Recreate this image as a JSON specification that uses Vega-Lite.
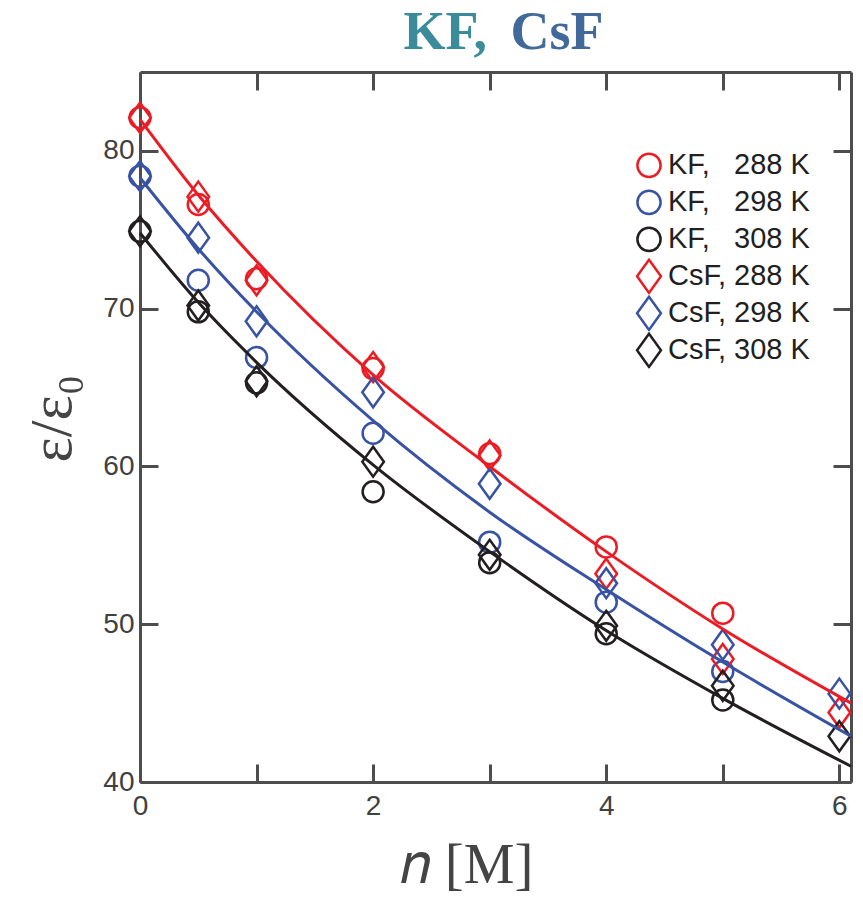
{
  "$schema": "https://vega.github.io/schema/vega-lite/v6.json",
  "width": 711,
  "height": 710,
  "autosize": {"type": "none"},
  "padding": {"left": 140, "top": 72, "right": 12, "bottom": 120},
  "background": "white",
  "config": {
    "view": {"stroke": null},
    "axis": {
      "grid": false,
      "domainColor": "#4d4d4d",
      "domainWidth": 3,
      "tickColor": "#4d4d4d",
      "tickWidth": 3,
      "tickSize": -18,
      "labelFlush": false,
      "labelFont": "Liberation Sans",
      "labelFontSize": 28,
      "labelColor": "#404040",
      "titleColor": "#444444",
      "titleFontWeight": "normal"
    }
  },
  "datasets": {
    "points": [
      {"n": 0, "eps": 82.1, "series": "KF, 288 K"},
      {"n": 0.5, "eps": 76.6, "series": "KF, 288 K"},
      {"n": 1, "eps": 71.9, "series": "KF, 288 K"},
      {"n": 2, "eps": 66.2, "series": "KF, 288 K"},
      {"n": 3, "eps": 60.8, "series": "KF, 288 K"},
      {"n": 4, "eps": 54.9, "series": "KF, 288 K"},
      {"n": 5, "eps": 50.7, "series": "KF, 288 K"},
      {"n": 0, "eps": 78.4, "series": "KF, 298 K"},
      {"n": 0.5, "eps": 71.8, "series": "KF, 298 K"},
      {"n": 1, "eps": 66.9, "series": "KF, 298 K"},
      {"n": 2, "eps": 62.1, "series": "KF, 298 K"},
      {"n": 3, "eps": 55.2, "series": "KF, 298 K"},
      {"n": 4, "eps": 51.4, "series": "KF, 298 K"},
      {"n": 5, "eps": 47.0, "series": "KF, 298 K"},
      {"n": 0, "eps": 74.9, "series": "KF, 308 K"},
      {"n": 0.5, "eps": 69.8, "series": "KF, 308 K"},
      {"n": 1, "eps": 65.3, "series": "KF, 308 K"},
      {"n": 2, "eps": 58.4, "series": "KF, 308 K"},
      {"n": 3, "eps": 53.9, "series": "KF, 308 K"},
      {"n": 4, "eps": 49.4, "series": "KF, 308 K"},
      {"n": 5, "eps": 45.2, "series": "KF, 308 K"},
      {"n": 0, "eps": 82.1, "series": "CsF, 288 K"},
      {"n": 0.5, "eps": 77.1, "series": "CsF, 288 K"},
      {"n": 1, "eps": 71.8, "series": "CsF, 288 K"},
      {"n": 2, "eps": 66.3, "series": "CsF, 288 K"},
      {"n": 3, "eps": 60.7, "series": "CsF, 288 K"},
      {"n": 4, "eps": 53.2, "series": "CsF, 288 K"},
      {"n": 5, "eps": 47.8, "series": "CsF, 288 K"},
      {"n": 6, "eps": 44.4, "series": "CsF, 288 K"},
      {"n": 0, "eps": 78.4, "series": "CsF, 298 K"},
      {"n": 0.5, "eps": 74.5, "series": "CsF, 298 K"},
      {"n": 1, "eps": 69.2, "series": "CsF, 298 K"},
      {"n": 2, "eps": 64.7, "series": "CsF, 298 K"},
      {"n": 3, "eps": 58.9, "series": "CsF, 298 K"},
      {"n": 4, "eps": 52.6, "series": "CsF, 298 K"},
      {"n": 5, "eps": 48.7, "series": "CsF, 298 K"},
      {"n": 6, "eps": 45.6, "series": "CsF, 298 K"},
      {"n": 0, "eps": 74.9, "series": "CsF, 308 K"},
      {"n": 0.5, "eps": 70.2, "series": "CsF, 308 K"},
      {"n": 1, "eps": 65.4, "series": "CsF, 308 K"},
      {"n": 2, "eps": 60.3, "series": "CsF, 308 K"},
      {"n": 3, "eps": 54.4, "series": "CsF, 308 K"},
      {"n": 4, "eps": 49.9, "series": "CsF, 308 K"},
      {"n": 5, "eps": 46.1, "series": "CsF, 308 K"},
      {"n": 6, "eps": 42.9, "series": "CsF, 308 K"}
    ],
    "fits": [
      {"n": 0, "eps": 82.0, "T": "288 K"},
      {"n": 0.5, "eps": 77.2, "T": "288 K"},
      {"n": 1, "eps": 73.0, "T": "288 K"},
      {"n": 2, "eps": 65.8, "T": "288 K"},
      {"n": 3, "eps": 60.0, "T": "288 K"},
      {"n": 4, "eps": 54.6, "T": "288 K"},
      {"n": 5, "eps": 49.7, "T": "288 K"},
      {"n": 6.1, "eps": 45.0, "T": "288 K"},
      {"n": 0, "eps": 78.3, "T": "298 K"},
      {"n": 0.5, "eps": 73.8, "T": "298 K"},
      {"n": 1, "eps": 69.8, "T": "298 K"},
      {"n": 2, "eps": 62.9, "T": "298 K"},
      {"n": 3, "eps": 57.1, "T": "298 K"},
      {"n": 4, "eps": 52.2, "T": "298 K"},
      {"n": 5, "eps": 47.6, "T": "298 K"},
      {"n": 6.1, "eps": 42.9, "T": "298 K"},
      {"n": 0, "eps": 74.8, "T": "308 K"},
      {"n": 0.5, "eps": 70.4, "T": "308 K"},
      {"n": 1, "eps": 66.6, "T": "308 K"},
      {"n": 2, "eps": 60.1, "T": "308 K"},
      {"n": 3, "eps": 54.6, "T": "308 K"},
      {"n": 4, "eps": 49.6, "T": "308 K"},
      {"n": 5, "eps": 45.3, "T": "308 K"},
      {"n": 6.1, "eps": 41.0, "T": "308 K"}
    ]
  },
  "layer": [
    {
      "data": {"name": "points"},
      "mark": {"type": "point", "filled": false, "strokeWidth": 2.5, "size": 900, "opacity": 1, "clip": false},
      "encoding": {
        "x": {
          "field": "n", "type": "quantitative",
          "scale": {"domain": [0, 6.1], "nice": false, "zero": false},
          "axis": {
            "orient": "top", "values": [0, 1, 2, 3, 4, 5, 6], "labels": false,
            "title": "KF,", "titleFont": "Liberation Serif", "titleFontSize": 54, "titleFontWeight": "bold",
            "titleColor": "#3b8c9a", "titleX": 263, "titleY": -24, "titleAlign": "left", "titleBaseline": "alphabetic"
          }
        },
        "y": {
          "field": "eps", "type": "quantitative",
          "scale": {"domain": [40, 85], "nice": false, "zero": false},
          "axis": {
            "orient": "right", "values": [40, 50, 60, 70, 80], "labels": false,
            "title": "CsF", "titleFont": "Liberation Serif", "titleFontSize": 54, "titleFontWeight": "bold",
            "titleColor": "#41699a", "titleAngle": 0, "titleX": -341, "titleY": -24, "titleAlign": "left", "titleBaseline": "alphabetic"
          }
        },
        "color": {
          "field": "series", "type": "nominal",
          "scale": {
            "domain": ["KF, 288 K", "KF, 298 K", "KF, 308 K", "CsF, 288 K", "CsF, 298 K", "CsF, 308 K"],
            "range": ["#ec1c24", "#3953a4", "#231f20", "#ec1c24", "#3953a4", "#231f20"]
          },
          "legend": {
            "orient": "none", "legendX": 491, "legendY": 75, "title": null, "padding": 0,
            "labelFont": "Liberation Sans", "labelFontSize": 29, "labelColor": "#231f20",
            "symbolSize": 1100, "symbolStrokeWidth": 2.5, "rowPadding": 0, "clipHeight": 36.7, "labelOffset": 1,
            "labelExpr": "replace(datum.label, 'KF, ', 'KF,\u00a0\u00a0\u00a0')"
          }
        },
        "shape": {
          "field": "series", "type": "nominal",
          "scale": {
            "domain": ["KF, 288 K", "KF, 298 K", "KF, 308 K", "CsF, 288 K", "CsF, 298 K", "CsF, 308 K"],
            "range": [
              "M-0.7,0A0.7,0.7,0,1,1,0.7,0A0.7,0.7,0,1,1,-0.7,0Z",
              "M-0.7,0A0.7,0.7,0,1,1,0.7,0A0.7,0.7,0,1,1,-0.7,0Z",
              "M-0.7,0A0.7,0.7,0,1,1,0.7,0A0.7,0.7,0,1,1,-0.7,0Z",
              "M0,-1L0.72,0L0,1L-0.72,0Z",
              "M0,-1L0.72,0L0,1L-0.72,0Z",
              "M0,-1L0.72,0L0,1L-0.72,0Z"
            ]
          },
          "legend": {
            "orient": "none", "legendX": 491, "legendY": 75, "title": null, "padding": 0,
            "labelFont": "Liberation Sans", "labelFontSize": 29, "labelColor": "#231f20",
            "symbolSize": 1100, "symbolStrokeWidth": 2.5, "rowPadding": 0, "clipHeight": 36.7, "labelOffset": 1,
            "labelExpr": "replace(datum.label, 'KF, ', 'KF,\u00a0\u00a0\u00a0')"
          }
        }
      }
    },
    {
      "data": {"name": "fits"},
      "transform": [{"filter": "datum.T === '288 K'"}],
      "mark": {"type": "line", "strokeWidth": 3, "interpolate": "monotone", "color": "#ec1c24"},
      "encoding": {
        "x": {
          "field": "n", "type": "quantitative",
          "scale": {"domain": [0, 6.1], "nice": false, "zero": false},
          "axis": {
            "orient": "bottom", "values": [0, 1, 2, 3, 4, 5, 6],
            "labelExpr": "datum.value % 2 === 0 ? datum.label : ''",
            "labelPadding": 28,
            "title": "𝑛 [M]", "titleFont": "Liberation Serif", "titleFontSize": 57,
            "titleX": 326, "titleY": 100, "titleBaseline": "alphabetic", "titleAlign": "center"
          }
        },
        "y": {
          "field": "eps", "type": "quantitative",
          "scale": {"domain": [40, 85], "nice": false, "zero": false},
          "axis": {
            "orient": "left", "values": [40, 50, 60, 70, 80], "labelPadding": 24,
            "title": "ε/ε₀", "titleFont": "Liberation Serif", "titleFontSize": 60,
            "titleAngle": -90, "titleX": -70, "titleY": 346, "titleBaseline": "alphabetic", "titleAlign": "center"
          }
        }
      }
    },
    {
      "data": {"name": "fits"},
      "transform": [{"filter": "datum.T === '298 K'"}],
      "mark": {"type": "line", "strokeWidth": 3, "interpolate": "monotone", "color": "#3953a4"},
      "encoding": {
        "x": {"field": "n", "type": "quantitative", "axis": null},
        "y": {"field": "eps", "type": "quantitative", "axis": null}
      }
    },
    {
      "data": {"name": "fits"},
      "transform": [{"filter": "datum.T === '308 K'"}],
      "mark": {"type": "line", "strokeWidth": 3, "interpolate": "monotone", "color": "#231f20"},
      "encoding": {
        "x": {"field": "n", "type": "quantitative", "axis": null},
        "y": {"field": "eps", "type": "quantitative", "axis": null}
      }
    }
  ]
}
